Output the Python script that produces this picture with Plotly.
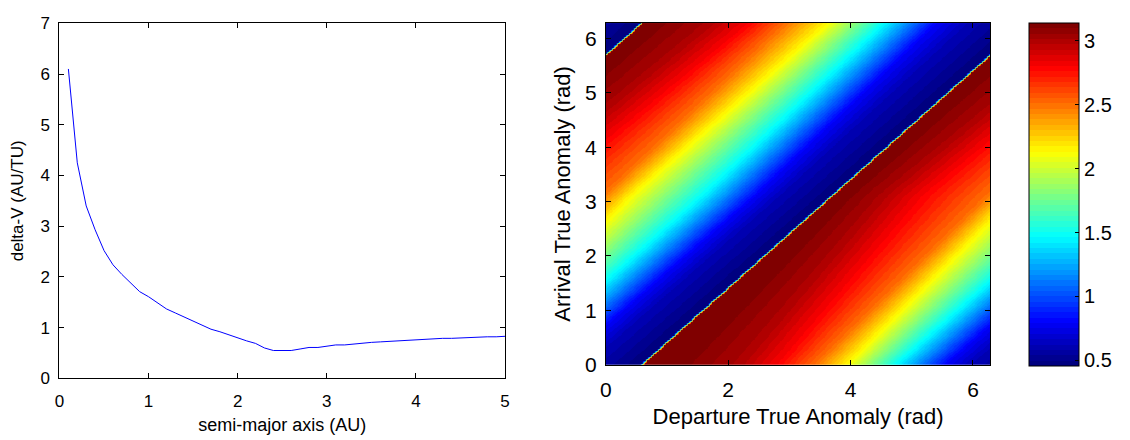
import numpy as np
import plotly.graph_objects as go

# ---------------- left panel: delta-V against semi-major axis ----------------
semi_major_axis = [0.1, 0.2, 0.3, 0.4, 0.5, 0.6, 0.7, 0.8, 0.9, 1.0,
                   1.1, 1.2, 1.3, 1.4, 1.5, 1.6, 1.7, 1.8, 1.9, 2.0,
                   2.1, 2.2, 2.3, 2.4, 2.5, 2.6, 2.7, 2.8, 2.9, 3.0,
                   3.1, 3.2, 3.3, 3.4, 3.5, 3.6, 3.7, 3.8, 3.9, 4.0,
                   4.1, 4.2, 4.3, 4.4, 4.5, 4.6, 4.7, 4.8, 4.9, 5.0]
delta_v = [6.10, 4.25, 3.40, 2.93, 2.52, 2.24, 2.05, 1.87, 1.71, 1.61,
           1.49, 1.37, 1.29, 1.21, 1.13, 1.04, 0.97, 0.92, 0.86, 0.79,
           0.74, 0.69, 0.60, 0.55, 0.55, 0.55, 0.58, 0.61, 0.61, 0.63,
           0.66, 0.66, 0.68, 0.69, 0.71, 0.72, 0.73, 0.75, 0.76, 0.77,
           0.77, 0.78, 0.79, 0.79, 0.80, 0.81, 0.81, 0.82, 0.82, 0.83]

# ---------------- right panel: delta-V map over departure / arrival anomaly ----------------
# arrival anomalies of the sampled rows
row_arrival = [0.0, 3.12, 6.26]
# delta-V levels and, for each sampled row, the phase past the discontinuity
# (phase = arrival - departure - cut_offset, wrapped to [0, 2pi)) where each level is reached
dv_levels = [0.453, 0.62, 0.79, 1.46, 2.13, 2.50, 2.80, 3.00, 3.10, 3.14]
phase_bottom = [0.0, 0.90, 1.31, 2.12, 2.92, 3.45, 4.06, 4.70, 5.50, 6.2832]
phase_middle = [0.0, 0.85, 1.24, 2.11, 3.27, 3.75, 4.80, 5.47, 5.95, 6.2832]
phase_top = [0.0, 0.95, 1.45, 2.31, 3.23, 3.93, 4.53, 5.18, 5.90, 6.2832]
cut_offset = -0.57

anomaly_ticks = [0, 2, 4, 6]
anomaly_ticks_y = [0, 1, 2, 3, 4, 5, 6]
colorbar_ticks = [0.5, 1, 1.5, 2, 2.5, 3]

TWO_PI = 2 * np.pi
n = 160
dep = np.linspace(0, TWO_PI, n)
arr = np.linspace(0, TWO_PI, n)
D, A = np.meshgrid(dep, arr)
phase = np.mod(A - D - cut_offset, TWO_PI)

rows = np.array([phase_bottom, phase_middle, phase_top])
Z = np.empty_like(phase)
for j, a in enumerate(arr):
    knots = np.array([np.interp(a, row_arrival, rows[:, k]) for k in range(len(dv_levels))])
    Z[j, :] = np.interp(phase[j, :], knots, dv_levels)


# 64-step jet colour map
def jet(t):
    r = np.clip(1.5 - abs(4 * t - 3), 0, 1)
    g = np.clip(1.5 - abs(4 * t - 2), 0, 1)
    b = np.clip(1.5 - abs(4 * t - 1), 0, 1)
    return f"rgb({int(round(r * 255))},{int(round(g * 255))},{int(round(b * 255))})"


ncol = 64
jet_scale = []
for i in range(ncol):
    c = jet(i / (ncol - 1))
    jet_scale.append([i / ncol, c])
    jet_scale.append([(i + 1) / ncol, c])

W, H = 1130, 440
FONT = "Liberation Sans, Arial, sans-serif"

fig = go.Figure()

fig.add_trace(go.Scatter(
    x=semi_major_axis, y=delta_v, mode="lines",
    line=dict(color="rgb(0,0,255)", width=1),
    xaxis="x", yaxis="y", showlegend=False,
))

fig.add_trace(go.Heatmap(
    x=dep, y=arr, z=Z, colorscale=jet_scale, zsmooth="best",
    xaxis="x2", yaxis="y2",
    colorbar=dict(
        x=1033 / W, xanchor="left", y=(H - 374) / H, yanchor="bottom",
        len=(374 - 14.7) / H, lenmode="fraction",
        thickness=50, thicknessmode="pixels",
        outlinewidth=1, outlinecolor="black",
        ticks="inside", ticklen=4, tickcolor="black",
        tickvals=colorbar_ticks, ticktext=["0.5", "1", "1.5", "2", "2.5", "3"],
        tickfont=dict(family=FONT, size=20, color="black"),
        xpad=0, ypad=0,
    ),
))

axis_common = dict(
    showline=True, linecolor="black", linewidth=1, mirror="ticks",
    ticks="inside", ticklen=5, tickcolor="black",
    showgrid=False, zeroline=False,
)

fig.update_layout(
    width=W, height=H,
    margin=dict(l=0, r=0, t=0, b=0),
    paper_bgcolor="white", plot_bgcolor="white",
    font=dict(family=FONT, color="black"),
    xaxis=dict(
        domain=[54 / W, 504 / W], range=[0, 5], tickvals=[0, 1, 2, 3, 4, 5],
        tickfont=dict(size=17), ticklabelstandoff=7,
        title=dict(text="semi-major axis (AU)", font=dict(size=18), standoff=8),
        anchor="y", **axis_common,
    ),
    yaxis=dict(
        domain=[(H - 387) / H, (H - 15) / H], range=[0, 7], tickvals=list(range(8)),
        tickfont=dict(size=17), ticklabelstandoff=5,
        title=dict(text="delta-V (AU/TU)", font=dict(size=17), standoff=12),
        anchor="x", **axis_common,
    ),
    xaxis2=dict(
        domain=[605.7 / W, 994 / W], range=[0, TWO_PI], tickvals=anomaly_ticks,
        tickfont=dict(size=21), ticklabelstandoff=6,
        title=dict(text="Departure True Anomaly (rad)", font=dict(size=22), standoff=8),
        anchor="y2", **axis_common,
    ),
    yaxis2=dict(
        domain=[(H - 372.7) / H, (H - 14.7) / H], range=[0, TWO_PI], tickvals=anomaly_ticks_y,
        tickfont=dict(size=21), ticklabelstandoff=4,
        title=dict(text="Arrival True Anomaly (rad)", font=dict(size=22), standoff=8),
        anchor="x2", **axis_common,
    ),
)

fig.write_html("out.html")
